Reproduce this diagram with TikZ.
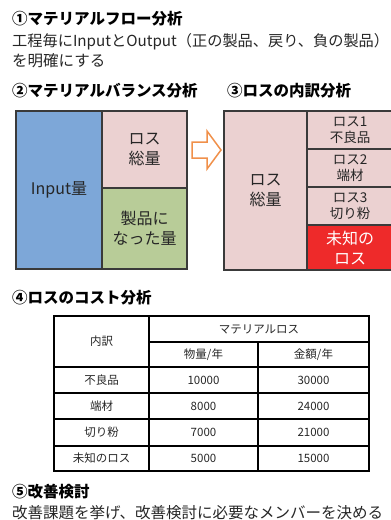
\documentclass[tikz,border=0pt]{standalone}
\usepackage{fontspec}
\setmainfont{Noto Sans CJK JP}
\definecolor{boxblue}{HTML}{7DA7D8}
\definecolor{boxpink}{HTML}{EBD1D1}
\definecolor{boxgreen}{HTML}{B8CC98}
\definecolor{boxred}{HTML}{EE2A2A}
\definecolor{boxline}{HTML}{3A3A3A}
\definecolor{arroworange}{HTML}{F0904A}
\definecolor{txt}{HTML}{262626}
\begin{document}
\begin{tikzpicture}[x=1pt,y=-1pt,
  title/.style={anchor=west,inner sep=0pt,font=\fontsize{15.5}{18}\selectfont\bfseries,text=black},
  body/.style={anchor=west,inner sep=0pt,font=\fontsize{15.5}{18}\selectfont,text=txt},
  cell/.style={draw=boxline,line width=1.2pt,inner sep=0pt,align=center,text=txt,
    font=\fontsize{16}{20}\selectfont},
  smallcell/.style={cell,font=\fontsize{13.5}{16}\selectfont},
  tcell/.style={draw=black,line width=1.6pt,inner sep=0pt,align=center,text=txt,
    font=\fontsize{11.5}{14}\selectfont}]
\useasboundingbox (0,0) rectangle (391,520);
\clip (0,0) rectangle (391,520);
% headings and body text
\node[title] (t1) at (12,19) {①マテリアルフロー分析};
\node[body,font=\fontsize{15.2}{18}\selectfont] (l1) at (12,42) {工程毎にInputとOutput（正の製品、戻り、負の製品）};
\node[body] (l2) at (12,61) {を明確にする};
\node[title] (t2) at (12,91) {②マテリアルバランス分析};
\node[title] (t3) at (227,91) {③ロスの内訳分析};
% material balance
\node[cell,fill=boxblue,minimum width=86,minimum height=158] (inp) at (59,190) {Input量};
\node[cell,fill=boxpink,minimum width=85,minimum height=77] (loss) at (144.5,149.5) {ロス\\総量};
\node[cell,fill=boxgreen,minimum width=85,minimum height=81] (prod) at (144.5,228.5) {製品に\\なった量};
% arrow
\draw[arroworange,line width=1.5pt,fill=white,line join=miter]
  (192,142) -- (207,142) -- (207,131) -- (221,150) -- (207,169) -- (207,158) -- (192,158) -- cycle;
% loss breakdown
\node[cell,fill=boxpink,minimum width=83,minimum height=159] (ltot) at (265.5,190.5) {ロス\\総量};
\node[smallcell,fill=boxpink,minimum width=86,minimum height=38] (l1b) at (350,130) {ロス1\\不良品};
\node[smallcell,fill=boxpink,minimum width=86,minimum height=38] (l2b) at (350,168) {ロス2\\端材};
\node[smallcell,fill=boxpink,minimum width=86,minimum height=38] (l3b) at (350,206) {ロス3\\切り粉};
\node[cell,fill=boxred,text=white,minimum width=86,minimum height=45] (l4b) at (350,247.5) {未知の\\ロス};
% cost table
\node[title] (t4) at (12,298) {④ロスのコスト分析};
\node[tcell,minimum width=95,minimum height=51] (hk) at (101.5,341.5) {内訳};
\node[tcell,minimum width=220,minimum height=26] (hm) at (259,329) {マテリアルロス};
\node[tcell,minimum width=109,minimum height=25] (hq) at (203.5,354.5) {物量/年};
\node[tcell,minimum width=111,minimum height=25] (ha) at (313.5,354.5) {金額/年};
\node[tcell,minimum width=95,minimum height=26] (r1a) at (101.5,380) {不良品};
\node[tcell,minimum width=109,minimum height=26] (r1b) at (203.5,380) {10000};
\node[tcell,minimum width=111,minimum height=26] (r1c) at (313.5,380) {30000};
\node[tcell,minimum width=95,minimum height=26] (r2a) at (101.5,406) {端材};
\node[tcell,minimum width=109,minimum height=26] (r2b) at (203.5,406) {8000};
\node[tcell,minimum width=111,minimum height=26] (r2c) at (313.5,406) {24000};
\node[tcell,minimum width=95,minimum height=27] (r3a) at (101.5,432.5) {切り粉};
\node[tcell,minimum width=109,minimum height=27] (r3b) at (203.5,432.5) {7000};
\node[tcell,minimum width=111,minimum height=27] (r3c) at (313.5,432.5) {21000};
\node[tcell,minimum width=95,minimum height=25] (r4a) at (101.5,458.5) {未知のロス};
\node[tcell,minimum width=109,minimum height=25] (r4b) at (203.5,458.5) {5000};
\node[tcell,minimum width=111,minimum height=25] (r4c) at (313.5,458.5) {15000};
% improvement
\node[title] (t5) at (12,492) {⑤改善検討};
\node[body] (l5) at (12,513) {改善課題を挙げ、改善検討に必要なメンバーを決める};
\end{tikzpicture}
\end{document}
